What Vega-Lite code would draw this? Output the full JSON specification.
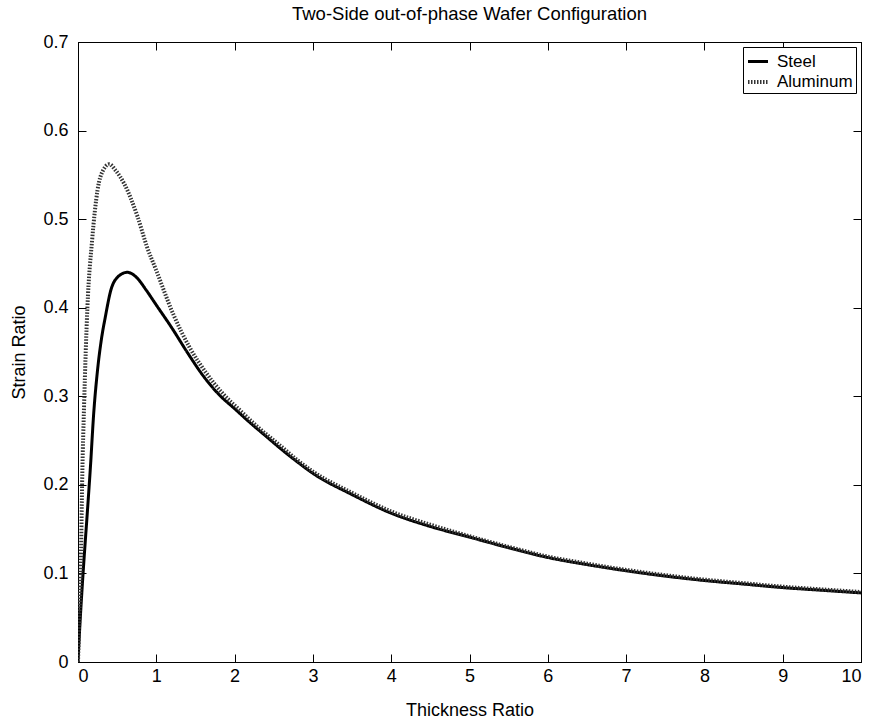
{
  "$schema": "https://vega.github.io/schema/vega-lite/v6.json",
  "autosize": {"type": "none"},
  "padding": {"left": 78, "top": 42, "right": 15, "bottom": 62},
  "width": 783,
  "height": 620,
  "background": "white",
  "title": {"text": "Two-Side out-of-phase Wafer Configuration", "font": "Liberation Sans", "fontSize": 18.5, "fontWeight": "normal", "color": "black", "anchor": "middle", "baseline": "alphabetic", "offset": -5},
  "config": {
    "view": {"stroke": "black", "strokeWidth": 1},
    "axis": {"grid": false, "domainColor": "black", "tickColor": "black", "labelColor": "black", "titleColor": "black", "labelFont": "Liberation Sans", "titleFont": "Liberation Sans", "labelFontSize": 18, "titleFontSize": 18, "titleFontWeight": "normal", "tickSize": -8, "domainWidth": 1, "tickWidth": 1}
  },
  "data": {"values": [
    {"t": 0, "s": 0, "m": "Steel"},
    {"t": 0.02, "s": 0.035, "m": "Steel"},
    {"t": 0.05, "s": 0.08, "m": "Steel"},
    {"t": 0.08, "s": 0.12, "m": "Steel"},
    {"t": 0.12, "s": 0.17, "m": "Steel"},
    {"t": 0.16, "s": 0.222, "m": "Steel"},
    {"t": 0.2, "s": 0.28, "m": "Steel"},
    {"t": 0.25, "s": 0.33, "m": "Steel"},
    {"t": 0.3, "s": 0.365, "m": "Steel"},
    {"t": 0.35, "s": 0.39, "m": "Steel"},
    {"t": 0.42, "s": 0.42, "m": "Steel"},
    {"t": 0.5, "s": 0.434, "m": "Steel"},
    {"t": 0.63, "s": 0.44, "m": "Steel"},
    {"t": 0.75, "s": 0.434, "m": "Steel"},
    {"t": 0.87, "s": 0.42, "m": "Steel"},
    {"t": 1.0, "s": 0.403, "m": "Steel"},
    {"t": 1.2, "s": 0.377, "m": "Steel"},
    {"t": 1.4, "s": 0.349, "m": "Steel"},
    {"t": 1.6, "s": 0.323, "m": "Steel"},
    {"t": 1.8, "s": 0.302, "m": "Steel"},
    {"t": 2.0, "s": 0.286, "m": "Steel"},
    {"t": 2.2, "s": 0.27, "m": "Steel"},
    {"t": 2.4, "s": 0.255, "m": "Steel"},
    {"t": 2.6, "s": 0.24, "m": "Steel"},
    {"t": 2.8, "s": 0.226, "m": "Steel"},
    {"t": 3.0, "s": 0.213, "m": "Steel"},
    {"t": 3.5, "s": 0.189, "m": "Steel"},
    {"t": 4.0, "s": 0.168, "m": "Steel"},
    {"t": 4.5, "s": 0.153, "m": "Steel"},
    {"t": 5.0, "s": 0.141, "m": "Steel"},
    {"t": 5.5, "s": 0.129, "m": "Steel"},
    {"t": 6.0, "s": 0.118, "m": "Steel"},
    {"t": 6.5, "s": 0.11, "m": "Steel"},
    {"t": 7.0, "s": 0.103, "m": "Steel"},
    {"t": 7.5, "s": 0.097, "m": "Steel"},
    {"t": 8.0, "s": 0.092, "m": "Steel"},
    {"t": 8.5, "s": 0.088, "m": "Steel"},
    {"t": 9.0, "s": 0.084, "m": "Steel"},
    {"t": 9.5, "s": 0.081, "m": "Steel"},
    {"t": 10.0, "s": 0.078, "m": "Steel"},
    {"t": 0, "s": 0, "m": "Aluminum"},
    {"t": 0.01, "s": 0.03, "m": "Aluminum"},
    {"t": 0.034, "s": 0.1, "m": "Aluminum"},
    {"t": 0.055, "s": 0.213, "m": "Aluminum"},
    {"t": 0.077, "s": 0.288, "m": "Aluminum"},
    {"t": 0.12, "s": 0.4, "m": "Aluminum"},
    {"t": 0.18, "s": 0.476, "m": "Aluminum"},
    {"t": 0.25, "s": 0.533, "m": "Aluminum"},
    {"t": 0.32, "s": 0.555, "m": "Aluminum"},
    {"t": 0.4, "s": 0.562, "m": "Aluminum"},
    {"t": 0.48, "s": 0.555, "m": "Aluminum"},
    {"t": 0.59, "s": 0.54, "m": "Aluminum"},
    {"t": 0.76, "s": 0.503, "m": "Aluminum"},
    {"t": 0.88, "s": 0.469, "m": "Aluminum"},
    {"t": 1.0, "s": 0.442, "m": "Aluminum"},
    {"t": 1.22, "s": 0.392, "m": "Aluminum"},
    {"t": 1.42, "s": 0.356, "m": "Aluminum"},
    {"t": 1.64, "s": 0.326, "m": "Aluminum"},
    {"t": 1.85, "s": 0.303, "m": "Aluminum"},
    {"t": 2.07, "s": 0.284, "m": "Aluminum"},
    {"t": 2.3, "s": 0.265, "m": "Aluminum"},
    {"t": 2.6, "s": 0.243, "m": "Aluminum"},
    {"t": 2.8, "s": 0.228, "m": "Aluminum"},
    {"t": 3.0, "s": 0.215, "m": "Aluminum"},
    {"t": 3.5, "s": 0.191, "m": "Aluminum"},
    {"t": 4.0, "s": 0.17, "m": "Aluminum"},
    {"t": 4.5, "s": 0.155, "m": "Aluminum"},
    {"t": 5.0, "s": 0.142, "m": "Aluminum"},
    {"t": 5.5, "s": 0.13, "m": "Aluminum"},
    {"t": 6.0, "s": 0.119, "m": "Aluminum"},
    {"t": 6.5, "s": 0.111, "m": "Aluminum"},
    {"t": 7.0, "s": 0.104, "m": "Aluminum"},
    {"t": 7.5, "s": 0.098, "m": "Aluminum"},
    {"t": 8.0, "s": 0.093, "m": "Aluminum"},
    {"t": 8.5, "s": 0.089, "m": "Aluminum"},
    {"t": 9.0, "s": 0.085, "m": "Aluminum"},
    {"t": 9.5, "s": 0.082, "m": "Aluminum"},
    {"t": 10.0, "s": 0.079, "m": "Aluminum"}
  ]},
  "resolve": {"axis": {"x": "independent", "y": "independent"}},
  "layer": [
    {
      "mark": {"type": "line", "interpolate": "monotone", "clip": true},
      "encoding": {
        "x": {"field": "t", "type": "quantitative", "scale": {"domain": [0, 10], "nice": false}, "axis": {"title": "Thickness Ratio", "values": [0,1,2,3,4,5,6,7,8,9,10], "format": "d", "labelPadding": 13, "titlePadding": 16}},
        "y": {"field": "s", "type": "quantitative", "scale": {"domain": [0, 0.7], "nice": false}, "axis": {"title": "Strain Ratio", "values": [0,0.1,0.2,0.3,0.4,0.5,0.6,0.7], "format": ".1~f", "labelPadding": 18, "titlePadding": 14}},
        "color": {"field": "m", "type": "nominal", "scale": {"domain": ["Steel", "Aluminum"], "range": ["black", "#333333"]}, "legend": {"title": null, "orient": "top-right", "offset": 5, "strokeColor": "black", "fillColor": "white", "padding": 3, "labelFont": "Liberation Sans", "labelFontSize": 17, "labelColor": "black", "symbolType": "stroke", "symbolSize": 400, "symbolStrokeWidth": 3, "rowPadding": 0, "labelOffset": 7, "labelLimit": 200}},
        "strokeDash": {"field": "m", "type": "nominal", "scale": {"domain": ["Steel", "Aluminum"], "range": [[1, 0], [1.5, 1.5]]}},
        "strokeWidth": {"field": "m", "type": "nominal", "scale": {"domain": ["Steel", "Aluminum"], "range": [3, 4]}},
        "order": {"field": "t", "type": "quantitative"}
      }
    },
    {
      "mark": {"type": "line", "opacity": 0},
      "encoding": {
        "x": {"field": "t", "type": "quantitative", "axis": {"orient": "top", "labels": false, "title": null, "values": [0,1,2,3,4,5,6,7,8,9,10]}},
        "y": {"field": "s", "type": "quantitative", "axis": {"orient": "right", "labels": false, "title": null, "values": [0,0.1,0.2,0.3,0.4,0.5,0.6,0.7]}},
        "detail": {"field": "m", "type": "nominal"}
      }
    }
  ]
}
